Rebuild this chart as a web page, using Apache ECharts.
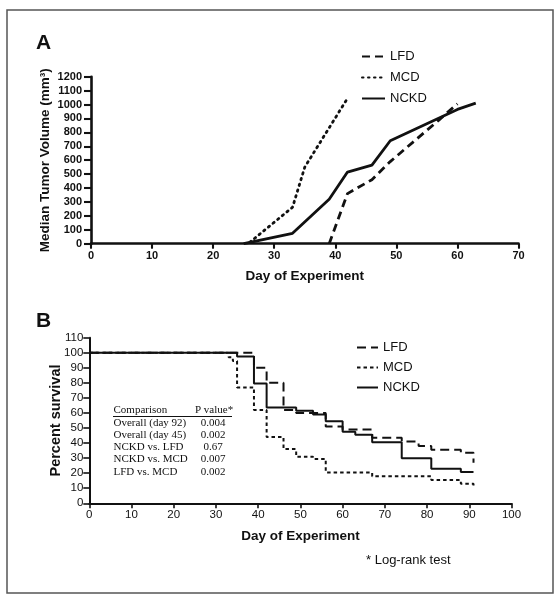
<!DOCTYPE html>
<html>
<head>
<meta charset="utf-8">
<script src="https://cdn.jsdelivr.net/npm/echarts@6/dist/echarts.min.js"></script>
<style>
html,body{margin:0;padding:0;background:#fff;}
#chart{width:560px;height:601px;}
</style>
</head>
<body>
<div id="chart"></div>
<script>
// ---------- Panel A: median tumor volume ----------
const seriesNames = ['LFD', 'MCD', 'NCKD'];
const tumorDaysLFD  = [39, 42, 46, 49, 53, 57, 60];
const tumorVolLFD   = [0, 360, 460, 590, 740, 890, 1005];
const tumorDaysMCD  = [26, 33, 35, 42];
const tumorVolMCD   = [10, 262, 550, 1045];
const tumorDaysNCKD = [25, 33, 39, 42, 46, 49, 60, 63];
const tumorVolNCKD  = [0, 75, 320, 515, 565, 740, 965, 1010];

// ---------- Panel B: Kaplan-Meier survival ----------
const survDaysLFD  = [0, 39, 42, 46, 49, 56, 60, 67, 74, 78, 81, 88, 91];
const survPctLFD   = [100, 90, 80, 62, 60, 51, 49, 43.5, 41, 38, 35.5, 33.5, 27];
const survDaysMCD  = [0, 33, 34, 35, 39, 42, 46, 49, 53, 56, 67, 81, 88, 91];
const survPctMCD   = [100, 97, 94.5, 77, 62, 44, 36, 31, 29.5, 20.5, 18, 15.5, 13, 11];
const survDaysNCKD = [0, 35, 39, 42, 49, 53, 56, 60, 63, 67, 74, 81, 88, 91];
const survPctNCKD  = [100, 97.5, 79.5, 63.6, 61.5, 59, 54.5, 47.5, 45.5, 40.5, 30, 23, 20.8, 20.8];

// ---------- Table of log-rank tests ----------
const tableHeader = ['Comparison', 'P value*'];
const tableComparisons = ['Overall (day 92)', 'Overall (day 45)', 'NCKD vs. LFD', 'NCKD vs. MCD', 'LFD vs. MCD'];
const tablePValues = ['0.004', '0.002', '0.67', '0.007', '0.002'];

const SANS = '"Liberation Sans", Arial, Helvetica, sans-serif';
const SERIF = '"Liberation Serif", "Times New Roman", serif';
const INK = '#111';

function pairs(xs, ys) { return xs.map((x, i) => [x, ys[i]]); }

const chart = echarts.init(document.getElementById('chart'), null, {renderer: 'canvas'});

function axisCommon(bold, lw, fs, margin, tickLen) {
  return {
    axisLine: {show: true, onZero: false, lineStyle: {color: INK, width: lw}},
    axisTick: {show: true, length: tickLen, lineStyle: {color: INK, width: lw * 0.8}},
    axisLabel: {color: INK, fontFamily: SANS, fontSize: fs, fontWeight: bold ? 'bold' : 'normal', margin: margin,
      formatter: v => String(v)},
    splitLine: {show: false}
  };
}

const tableGraphics = [];
const tX = 113.5, vX = 213, headY = 410.5, rowY0 = 423.3, rowStep = 12.1;
const tFont = '11px ' + SERIF;
tableGraphics.push({type: 'text', x: tX, y: headY, style: {text: tableHeader[0], font: tFont, fill: INK, textVerticalAlign: 'middle'}});
tableGraphics.push({type: 'text', x: 195, y: headY, style: {text: tableHeader[1], font: tFont, fill: INK, textVerticalAlign: 'middle'}});
tableGraphics.push({type: 'line', shape: {x1: 113, y1: 416.5, x2: 232, y2: 416.5}, style: {stroke: INK, lineWidth: 1}});
tableComparisons.forEach((c, i) => {
  tableGraphics.push({type: 'text', x: tX, y: rowY0 + i * rowStep, style: {text: c, font: tFont, fill: INK, textVerticalAlign: 'middle'}});
  tableGraphics.push({type: 'text', x: vX, y: rowY0 + i * rowStep, style: {text: tablePValues[i], font: tFont, fill: INK, textAlign: 'center', textVerticalAlign: 'middle'}});
});

const legendCommon = {orient: 'vertical', itemHeight: 12, padding: 0, selectedMode: false,
  itemStyle: {opacity: 0, borderWidth: 0}, textStyle: {color: INK, fontFamily: SANS, fontSize: 13}};

const option = {
  animation: false,
  backgroundColor: '#fff',
  grid: [
    {left: 91, top: 76.7, width: 427.5, height: 167, containLabel: false},
    {left: 89.3, top: 337.7, width: 422.2, height: 165.6, containLabel: false}
  ],
  xAxis: [
    Object.assign({type: 'value', gridIndex: 0, min: 0, max: 70, interval: 10,
      name: 'Day of Experiment', nameLocation: 'middle', nameGap: 26,
      nameTextStyle: {color: INK, fontFamily: SANS, fontSize: 13.5, fontWeight: 'bold'}},
      axisCommon(true, 2.6, 11, 7, 5)),
    Object.assign({type: 'value', gridIndex: 1, min: 0, max: 100, interval: 10,
      name: 'Day of Experiment', nameLocation: 'middle', nameGap: 26,
      nameTextStyle: {color: INK, fontFamily: SANS, fontSize: 13.5, fontWeight: 'bold'}},
      axisCommon(false, 2, 11.5, 6, 5))
  ],
  yAxis: [
    Object.assign({type: 'value', gridIndex: 0, min: 0, max: 1200, interval: 100,
      name: 'Median Tumor Volume (mm³)', nameLocation: 'middle', nameGap: 38.5, nameRotate: 90,
      nameMoveOverlap: false,
      nameTextStyle: {color: INK, fontFamily: SANS, fontSize: 13.5, fontWeight: 'bold'}},
      axisCommon(true, 2.6, 11, 9, 7)),
    Object.assign({type: 'value', gridIndex: 1, min: 0, max: 110, interval: 10,
      name: 'Percent survival', nameLocation: 'middle', nameGap: 26, nameRotate: 90,
      nameMoveOverlap: false,
      nameTextStyle: {color: INK, fontFamily: SANS, fontSize: 14.5, fontWeight: 'bold'}},
      axisCommon(false, 2, 11.5, 6, 6))
  ],
  legend: [
    Object.assign({left: 361, top: 50, itemWidth: 23, itemGap: 8, data: seriesNames}, legendCommon),
    Object.assign({left: 356, top: 341, itemWidth: 21, itemGap: 7,
      data: seriesNames.map(n => n + ' '), formatter: n => n.trim()}, legendCommon)
  ],
  series: [
    {name: 'LFD', type: 'line', xAxisIndex: 0, yAxisIndex: 0, symbol: 'none',
      data: pairs(tumorDaysLFD, tumorVolLFD),
      lineStyle: {color: INK, width: 2.8, type: [8, 5]}, itemStyle: {color: INK}},
    {name: 'MCD', type: 'line', xAxisIndex: 0, yAxisIndex: 0, symbol: 'none',
      data: pairs(tumorDaysMCD, tumorVolMCD),
      lineStyle: {color: INK, width: 2.8, type: [1.5, 4.5], cap: 'round'}, itemStyle: {color: INK}},
    {name: 'NCKD', type: 'line', xAxisIndex: 0, yAxisIndex: 0, symbol: 'none',
      data: pairs(tumorDaysNCKD, tumorVolNCKD),
      lineStyle: {color: INK, width: 2.8, type: 'solid'}, itemStyle: {color: INK}},
    {name: 'LFD ', type: 'line', xAxisIndex: 1, yAxisIndex: 1, symbol: 'none', step: 'end',
      data: pairs(survDaysLFD, survPctLFD),
      lineStyle: {color: INK, width: 2, type: [9, 5]}, itemStyle: {color: INK}},
    {name: 'MCD ', type: 'line', xAxisIndex: 1, yAxisIndex: 1, symbol: 'none', step: 'end',
      data: pairs(survDaysMCD, survPctMCD),
      lineStyle: {color: INK, width: 2, type: [3.5, 3]}, itemStyle: {color: INK}},
    {name: 'NCKD ', type: 'line', xAxisIndex: 1, yAxisIndex: 1, symbol: 'none', step: 'end',
      data: pairs(survDaysNCKD, survPctNCKD),
      lineStyle: {color: INK, width: 2, type: 'solid'}, itemStyle: {color: INK}}
  ],
  graphic: [
    {type: 'rect', shape: {x: 7, y: 10, width: 546, height: 583}, style: {fill: 'none', stroke: '#555', lineWidth: 1.5}, z: -1},
    {type: 'text', left: 36, top: 33, style: {text: 'A', font: 'bold 21px ' + SANS, fill: INK}},
    {type: 'text', left: 36, top: 311, style: {text: 'B', font: 'bold 21px ' + SANS, fill: INK}},
    {type: 'text', left: 366, top: 554, style: {text: '* Log-rank test', font: '13px ' + SANS, fill: INK}}
  ].concat(tableGraphics)
};
chart.setOption(option);
</script>
</body>
</html>
